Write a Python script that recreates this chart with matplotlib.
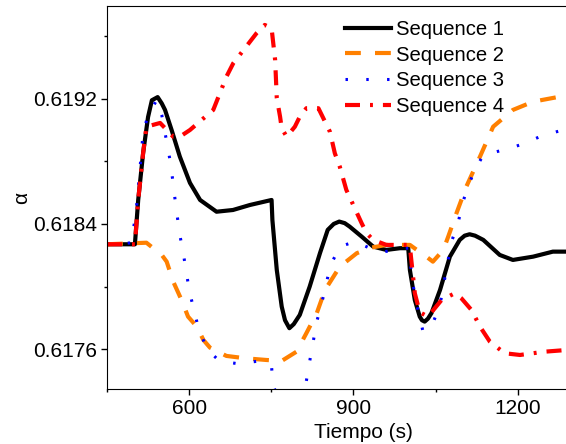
import matplotlib
matplotlib.use("Agg")
import matplotlib.pyplot as plt
from matplotlib.ticker import FixedLocator

plt.rcParams['font.family'] = ['Liberation Sans', 'DejaVu Sans']

# Sequence 1 (solid black)
t1 = [450, 501, 507, 516, 525, 532, 542.5, 550, 556, 568, 583, 601.5, 620, 650, 680, 711,
      750.5, 752, 760, 769, 775, 783, 791, 802, 820, 839, 853, 864, 874, 884, 893, 915,
      936, 960, 985, 1000, 1003, 1012, 1021, 1025, 1030, 1036, 1042.5, 1058, 1076, 1094,
      1103, 1112, 1122, 1137, 1167, 1191, 1228, 1264, 1290]
a1 = [0.61827, 0.61827, 0.618553, 0.618853, 0.619083, 0.61919, 0.61921, 0.61917,
      0.619128, 0.6190, 0.61883, 0.618662, 0.618553, 0.618478, 0.618489, 0.618521,
      0.618553, 0.618425, 0.618106, 0.617872, 0.617785, 0.617734, 0.61776, 0.617819,
      0.617999, 0.618215, 0.618362, 0.6184, 0.618415, 0.618405, 0.618383, 0.618319,
      0.618255, 0.618234, 0.618245, 0.618245, 0.618106, 0.617914, 0.617808, 0.617785,
      0.617776, 0.617795, 0.617831, 0.617978, 0.618191, 0.618298, 0.618325, 0.618334,
      0.618325, 0.618298, 0.618202, 0.61817, 0.618191, 0.618223, 0.618223]

# Sequence 2 (orange dashed)
t2 = [450, 522, 550, 559, 571, 586, 598, 614, 626, 638, 668, 702, 741, 769, 796, 814,
      833, 848, 875, 906, 933, 960, 1003, 1033, 1045, 1064, 1073, 1088, 1106, 1131,
      1155, 1191, 1228, 1277, 1290]
a2 = [0.61827, 0.61828, 0.618202, 0.618159, 0.618031, 0.617915, 0.617808, 0.617744,
      0.617659, 0.61761, 0.617557, 0.617542, 0.617531, 0.617525, 0.617584, 0.617702,
      0.61783, 0.617978, 0.618127, 0.618213, 0.618249, 0.618266, 0.618266, 0.618191,
      0.618159, 0.618234, 0.618319, 0.618468, 0.618638, 0.61883, 0.619021, 0.619128,
      0.619181, 0.619213, 0.619224]

# Sequence 3 (blue dotted)
t3 = [450, 495, 504, 510, 516, 525, 541, 550, 559, 565, 570, 574, 578, 583, 589, 595,
      600, 607.5, 615.5, 627.5, 636, 655, 691, 728, 750.5, 753, 770, 795, 814, 820,
      826.5, 833, 842, 854, 863, 875, 903, 930, 957, 994, 1000, 1012, 1027, 1045, 1058,
      1070, 1079, 1091, 1098, 1109, 1121.5, 1137, 1179, 1210, 1240, 1271, 1290]
a3 = [0.61827, 0.618279, 0.61851, 0.618745, 0.618981, 0.619096, 0.619192, 0.619096,
      0.618925, 0.618809, 0.618681, 0.618564, 0.618457, 0.61833, 0.618219, 0.618091,
      0.617978, 0.617868, 0.617755, 0.617644, 0.617589, 0.617525, 0.617506, 0.617525,
      0.617489, 0.617372, 0.61722, 0.61724, 0.617397, 0.617521, 0.617648, 0.617776,
      0.617893, 0.618074, 0.61817, 0.618255, 0.618287, 0.618245, 0.618223, 0.618245,
      0.618245, 0.617936, 0.617712, 0.617766, 0.617883, 0.618117, 0.618287, 0.618404,
      0.618521, 0.618638, 0.618745, 0.61884, 0.618877, 0.618911, 0.618957, 0.618989,
      0.619007]

# Sequence 4 (red dash-dot)
t4 = [450, 501, 507, 516, 522, 547, 571, 583, 601.5, 644, 656, 668, 680.5, 723, 738,
      750.5, 757, 760, 766, 769, 778, 793, 802, 814, 836, 845, 857, 866, 875, 887, 915,
      924, 936, 960, 1000, 1003, 1012, 1021, 1036, 1061, 1085, 1097, 1115.5, 1131, 1149,
      1176, 1204, 1249, 1290]
a4 = [0.61827, 0.61827, 0.618553, 0.618853, 0.619021, 0.619045, 0.618957, 0.618957,
      0.6190, 0.619128, 0.619234, 0.61934, 0.619426, 0.619618, 0.619671, 0.61965,
      0.619447, 0.619204, 0.619085, 0.619011, 0.618957, 0.619021, 0.619085, 0.619139,
      0.619139, 0.619075, 0.618989, 0.618851, 0.618766, 0.618617, 0.618404, 0.618341,
      0.618298, 0.618266, 0.618266, 0.618255, 0.617957, 0.617836, 0.617808, 0.617915,
      0.617957, 0.617925, 0.61785, 0.617744, 0.617648, 0.617574, 0.617563, 0.617584,
      0.617595]

labels = ['Sequence 1', 'Sequence 2', 'Sequence 3', 'Sequence 4']
xticks = [600, 900, 1200]
xminor = [450, 750, 1050]
yticks = [0.6176, 0.6184, 0.6192]
yminor = [0.6172, 0.6180, 0.6188, 0.6196]

fig = plt.figure(figsize=(5.66, 4.44), dpi=100)
ax = fig.add_axes([0.189, 0.124, 0.811, 0.8625])

ax.plot(t1, a1, color='black', lw=3, label=labels[0])
ax.plot(t2, a2, color='#FF8000', lw=3, linestyle=(0, (3.8, 3.4)), label=labels[1])
ax.plot(t3, a3, color='#0000FF', lw=2.2, linestyle=(0, (0.8, 6)), label=labels[2])
ax.plot(t4, a4, color='#FF0000', lw=3, linestyle=(0, (3.6, 2.4, 0.7, 2.4)), label=labels[3])

ax.set_xlim(450, 1288)
ax.set_ylim(0.617346, 0.619792)
ax.xaxis.set_major_locator(FixedLocator(xticks))
ax.xaxis.set_minor_locator(FixedLocator(xminor))
ax.yaxis.set_major_locator(FixedLocator(yticks))
ax.yaxis.set_minor_locator(FixedLocator(yminor))
ax.set_yticklabels(['0.6176', '0.6184', '0.6192'])
ax.tick_params(which='major', length=4, width=1, labelsize=15, pad=3)
ax.tick_params(which='minor', length=2, width=1)
ax.spines['right'].set_visible(False)

ax.set_xlabel('Tiempo (s)', fontsize=15)
ax.xaxis.set_label_coords(0.558, -0.088)
ax.set_ylabel('α', fontsize=15)
ax.yaxis.set_label_coords(-0.165, 0.5)

ax.legend(loc='upper left', bbox_to_anchor=(0.478, 1.012), frameon=False,
          fontsize=14.6, handlelength=2.3, handletextpad=0.25, labelspacing=0.34,
          borderpad=0.4)

fig.savefig('out.png', dpi=100)
